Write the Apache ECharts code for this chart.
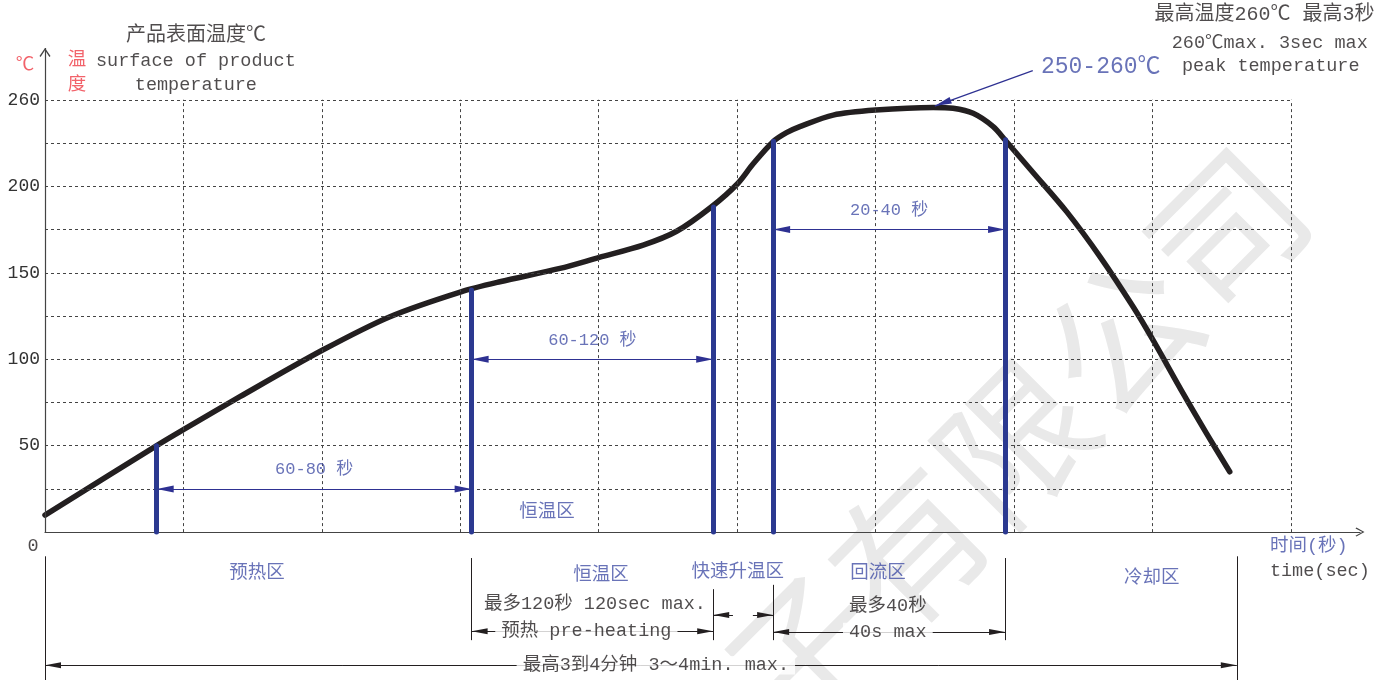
<!DOCTYPE html>
<html><head><meta charset="utf-8">
<script src="https://cdn.jsdelivr.net/npm/echarts@6/dist/echarts.min.js"></script>
<style>html,body{margin:0;padding:0;background:#fff}#c{width:1397px;height:680px}</style>
</head><body><div id="c"></div>
<script>
// x values are in grid-column units: column k carries the printed label timeLabels[k]
const timeLabels = ['0','65','105','145','185','225','265','285','275'];
const tempTickValues = [50, 100, 150, 200, 250];
const tempTickLabels = ['50', '100', '150', '200', '260'];

// reflow profile curve (column position, temperature)
const curveX = [0, 0.807, 1.006, 1.408, 2.006, 2.492, 3.005, 3.286, 3.72, 4.004, 4.321, 4.563, 4.816, 5.003, 5.116, 5.26, 5.357, 5.453, 5.694, 6.002, 6.416, 6.56, 6.705, 6.85, 6.936, 7.138, 7.379, 7.62, 7.861, 8.005, 8.222, 8.391, 8.559];
const curveT = [9.8, 50, 59.5, 78.3, 105.3, 124.6, 139, 144.8, 152.5, 158.9, 166, 174, 188.2, 201.5, 213, 225.8, 231, 234.5, 241.2, 244.1, 245.6, 245.1, 242.2, 234.5, 226.8, 208, 185.5, 159.5, 130.3, 111, 80.2, 57.1, 34.9];

// zone boundary markers (blue bars)
const zoneX = [0.807, 3.082, 4.827, 5.26, 6.936];
const zoneTop = [50, 140, 188, 226, 227];
const totalEndX = 8.61;

// interval arrows inside the plot
const spanFrom = [0, 1, 3];
const spanTo = [1, 2, 4];
const spanTemp = [25, 100, 175];
const spanLabels = ['60-80 秒', '60-120 秒', '20-40 秒'];

const FONT = "'Liberation Mono','Noto Sans CJK SC',monospace";
const BLUE_BAR = '#2b3990', BLUE_TXT = '#4350a6', BLACK = '#231f20', RED = '#ef3b45';
const CHEVRON = 'path://M0,9 L5,0 L10,9 L9,10 L5,2.4 L1,10 Z';

const S = {
  black: {color: BLACK, fontSize: 18.5},
  head: {color: BLACK, fontSize: 20},
  blue: {color: BLUE_TXT, fontSize: 18.5},
  red: {color: RED, fontSize: 18.5},
  big: {color: BLUE_TXT, fontSize: 23},
  span: {color: BLUE_TXT, fontSize: 17},
  bg: {color: BLACK, fontSize: 18.5, backgroundColor: '#fff', padding: [0, 6]}
};

const notes = [
  ['产品表面温度℃', 1.09, 287, 'head'],
  ['surface of product', 1.09, 272.5, 'black'],
  ['temperature', 1.09, 258.6, 'black'],
  ['℃', -0.144, 270, 'red'],
  ['温', 0.231, 273, 'red'],
  ['度', 0.231, 258.6, 'red'],
  ['最高温度260℃ 最高3秒', 8.81, 299, 'head'],
  ['260℃max. 3sec max', 8.848, 283, 'black'],
  ['250-260℃', 7.627, 269.2, 'big'],
  ['peak temperature', 8.855, 269.6, 'black'],
  ['恒温区', 3.626, 11.6, 'blue'],
  ['0', -0.087, -8.1, 'black'],
  ['时间(秒)', 9.13, -8.1, 'blue'],
  ['time(sec)', 9.21, -22.6, 'black'],
  ['预热区', 1.531, -23.7, 'blue'],
  ['恒温区', 4.016, -24.9, 'blue'],
  ['快速升温区', 5.005, -23.1, 'blue'],
  ['回流区', 6.017, -23.7, 'blue'],
  ['冷却区', 7.996, -26.6, 'blue'],
  ['最多120秒 120sec max.', 3.973, -41.7, 'black'],
  ['最多40秒', 6.089, -42.8, 'black'],
  ['40s max', 6.089, -57.8, 'bg'],
  ['预热 pre-heating', 3.911, -57.3, 'bg'],
  ['最高3到4分钟 3～4min. max.', 4.413, -77, 'bg']
];
spanLabels.forEach((t, i) => notes.push([t, (zoneX[spanFrom[i]] + zoneX[spanTo[i]]) / 2, spanTemp[i] + 11, 'span']));

function end(x, y, sym, size) {
  const o = {coord: [x, y], symbol: sym || 'none'};
  if (sym && sym !== 'none') { o.symbolSize = size; o.symbolOffset = [0, '50%']; }
  return o;
}
function seg(x1, y1, x2, y2, style, s1, s2, size) {
  const a = end(x1, y1, s1, size);
  a.lineStyle = style;
  return [a, end(x2, y2, s2, size)];
}

// dashed grid
const gridStyle = {color: '#444', width: 1, type: [3, 3]};
const gridLines = [];
for (let t = 25; t <= 250; t += 25) gridLines.push(seg(0, t, 9, t, gridStyle));
for (let k = 1; k <= 9; k++) gridLines.push(seg(k, 0, k, 250, gridStyle));
// y axis with open arrow
gridLines.push(seg(0, 0, 0, 280, {color: '#444', width: 1.2, type: 'solid'}, 'none', CHEVRON, [11, 9]));

// blue zone bars
const barStyle = {color: BLUE_BAR, width: 5, type: 'solid', cap: 'round'};
const barLines = zoneX.map((x, i) => seg(x, 0, x, zoneTop[i], barStyle));

// annotation lines
const thinBlue = {color: '#2e3192', width: 1.2, type: 'solid'};
const thinBlack = {color: BLACK, width: 1, type: 'solid'};
const annLines = [];
spanFrom.forEach((a, i) => annLines.push(seg(zoneX[a], spanTemp[i], zoneX[spanTo[i]], spanTemp[i], thinBlue, 'triangle', 'triangle', [7, 17])));
annLines.push(seg(7.136, 266.9, 6.428, 246.4, thinBlue, 'none', 'triangle', [7, 17]));
// vertical dimension lines below the axis
annLines.push(seg(0, -14, 0, -95, thinBlack));
annLines.push(seg(zoneX[1], -15, zoneX[1], -62.5, thinBlack));
annLines.push(seg(zoneX[2], -33, zoneX[2], -62.5, thinBlack));
annLines.push(seg(zoneX[3], -30.5, zoneX[3], -62.5, thinBlack));
annLines.push(seg(zoneX[4], -15, zoneX[4], -62.5, thinBlack));
annLines.push(seg(totalEndX, -14, totalEndX, -95, thinBlack));
// dimension arrows
annLines.push(seg(zoneX[1], -57.3, zoneX[2], -57.3, thinBlack, 'triangle', 'triangle', [6, 16]));
annLines.push(seg(4.97, -48, zoneX[2], -48, thinBlack, 'none', 'triangle', [6, 16]));
annLines.push(seg(5.114, -48, zoneX[3], -48, thinBlack, 'none', 'triangle', [6, 16]));
annLines.push(seg(zoneX[3], -57.8, zoneX[4], -57.8, thinBlack, 'triangle', 'triangle', [6, 16]));
annLines.push(seg(0, -77, totalEndX, -77, thinBlack, 'triangle', 'triangle', [6, 16]));

const chart = echarts.init(document.getElementById('c'), null, {renderer: 'canvas'});
chart.setOption({
  animation: false,
  backgroundColor: '#fff',
  grid: {left: 45, right: 37, top: 48, bottom: -25, containLabel: false, outerBoundsMode: 'none'},
  xAxis: {
    type: 'value', min: 0, max: 9.5, interval: 1,
    axisLine: {show: true, onZero: true, lineStyle: {color: '#444', width: 1.2}, symbol: ['none', CHEVRON], symbolSize: [11, 9]},
    axisTick: {show: false}, splitLine: {show: false},
    axisLabel: {margin: 6, fontSize: 18, color: '#333', fontFamily: FONT,
      formatter: v => (Number.isInteger(v) && v >= 1 && v < timeLabels.length) ? timeLabels[v] : ''}
  },
  yAxis: {
    type: 'value', min: -100, max: 280, interval: 25,
    axisLine: {show: false}, axisTick: {show: false}, splitLine: {show: false},
    axisLabel: {margin: 5, fontSize: 18, color: '#333', fontFamily: FONT,
      formatter: v => { const i = tempTickValues.indexOf(v); return i >= 0 ? tempTickLabels[i] : ''; }}
  },
  graphic: [{
    type: 'text', x: 1015, y: 442, rotation: Math.PI / 4, z: -10, silent: true,
    style: {text: '子有限公司', fontSize: 150, fontFamily: "'Noto Sans CJK SC'", fill: '#e9e9e9', align: 'center', verticalAlign: 'middle'}
  }],
  series: [
    {type: 'line', data: [], z: 1, silent: true,
      markLine: {silent: true, animation: false, symbol: ['none', 'none'], label: {show: false}, data: gridLines}},
    {type: 'line', data: [], z: 2, silent: true,
      markLine: {silent: true, animation: false, symbol: ['none', 'none'], label: {show: false}, data: annLines}},
    {type: 'line', data: [], z: 3, silent: true,
      markLine: {silent: true, animation: false, symbol: ['none', 'none'], label: {show: false}, data: barLines}},
    {type: 'line', z: 4, silent: true, smooth: 0.3, symbol: 'none',
      lineStyle: {color: BLACK, width: 5.5, cap: 'round', join: 'round'},
      data: curveX.map((x, i) => [x, curveT[i]])},
    {type: 'scatter', z: 6, silent: true, clip: false, symbolSize: 0,
      label: {show: true, position: 'inside', formatter: '{b}', align: 'center', verticalAlign: 'middle'},
      data: notes.map(n => ({name: n[0], value: [n[1], n[2]],
        label: Object.assign({fontFamily: FONT}, S[n[3]])}))}
  ]
});
</script></body></html>
